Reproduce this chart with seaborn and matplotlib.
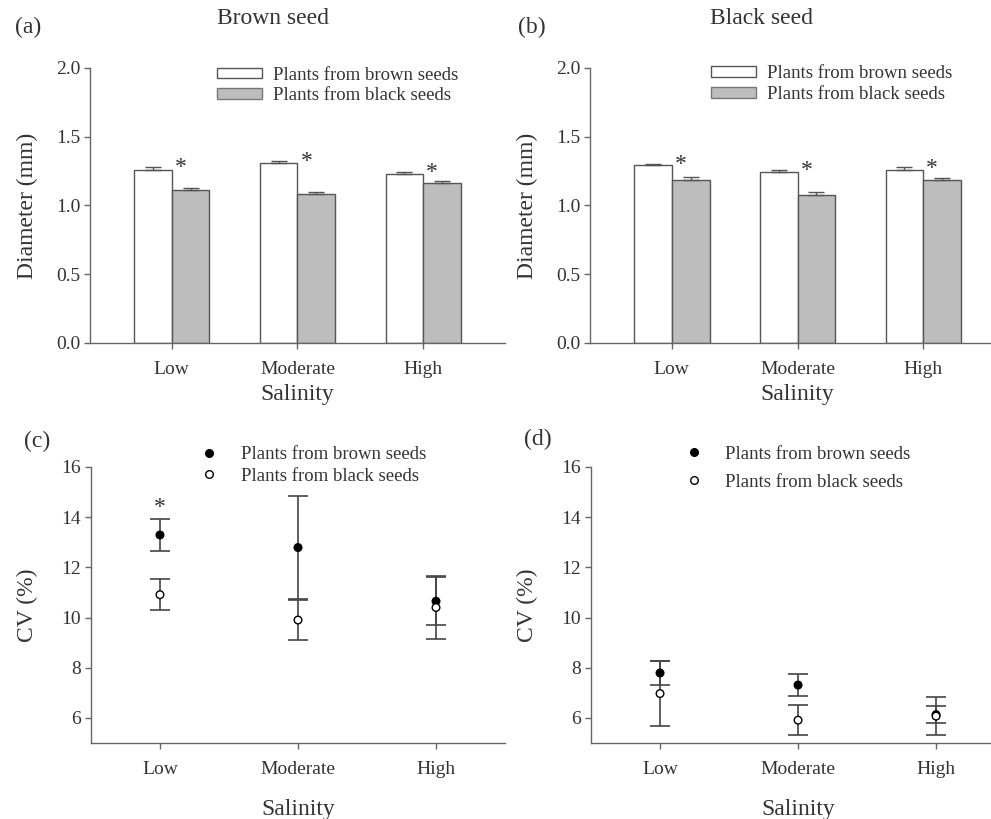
import pandas as pd
import matplotlib
matplotlib.use('Agg')
import matplotlib.pyplot as plt
import seaborn as sns
from matplotlib.patches import Patch
from matplotlib.lines import Line2D

# Data
salinity = ['Low', 'Moderate', 'High']
groups = ['Plants from brown seeds', 'Plants from black seeds']

# (a) Brown seed: diameter (mm)
diam_a_brown = [1.26, 1.31, 1.23]
diam_a_brown_se = [0.022, 0.017, 0.016]
diam_a_black = [1.115, 1.081, 1.164]
diam_a_black_se = [0.013, 0.017, 0.015]

# (b) Black seed: diameter (mm)
diam_b_brown = [1.292, 1.246, 1.256]
diam_b_brown_se = [0.012, 0.012, 0.022]
diam_b_black = [1.188, 1.079, 1.188]
diam_b_black_se = [0.017, 0.017, 0.011]

# (c) Brown seed: CV (%)
cv_c_brown = [13.29, 12.79, 10.65]
cv_c_brown_se = [0.65, 2.05, 0.95]
cv_c_black = [10.91, 9.90, 10.40]
cv_c_black_se = [0.61, 0.81, 1.25]

# (d) Black seed: CV (%)
cv_d_brown = [7.79, 7.31, 6.13]
cv_d_brown_se = [0.47, 0.42, 0.33]
cv_d_black = [6.97, 5.91, 6.07]
cv_d_black_se = [1.30, 0.61, 0.75]

sns.set_style('ticks')
plt.rcParams['font.family'] = ['Liberation Serif', 'DejaVu Serif']

TXT = '#333333'
SPINE = '#666666'
GRAY = '#bdbdbd'

fig = plt.figure(figsize=(9.91, 8.19), dpi=100)
ax_a = fig.add_axes([0.0908, 0.5812, 0.4188, 0.3358])
ax_b = fig.add_axes([0.5954, 0.5812, 0.4188, 0.3358])
ax_c = fig.add_axes([0.0918, 0.0928, 0.4178, 0.3370])
ax_d = fig.add_axes([0.5964, 0.0928, 0.4178, 0.3370])


def star(ax, x, y):
    # asterisk glyph centred on (x, y); the glyph sits high in its text box
    ax.annotate('*', xy=(x, y), xytext=(0, -7.5), textcoords='offset points',
                ha='center', va='baseline', fontsize=17, color=TXT)


def style_axes(ax, ylabel, xpad, ypad):
    sns.despine(ax=ax)
    for s in ['left', 'bottom']:
        ax.spines[s].set_color(SPINE)
        ax.spines[s].set_linewidth(1.0)
    ax.tick_params(axis='both', colors=SPINE, labelcolor=TXT, labelsize=14,
                   length=4, width=1.0, direction='out')
    ax.tick_params(axis='x', pad=9)
    ax.tick_params(axis='y', pad=3)
    ax.set_xlabel('Salinity', fontsize=17, color=TXT, labelpad=xpad)
    ax.set_ylabel(ylabel, fontsize=17, color=TXT, labelpad=ypad)


def bar_panel(ax, brown, brown_se, black, black_se, legend_xy):
    df = pd.DataFrame({
        'salinity': salinity * 2,
        'group': [groups[0]] * 3 + [groups[1]] * 3,
        'value': brown + black,
    })
    sns.barplot(data=df, x='salinity', y='value', hue='group', order=salinity,
                hue_order=groups, palette=['white', GRAY], width=0.6, gap=0,
                errorbar=None, edgecolor='#555555', linewidth=1.0, ax=ax,
                legend=False)
    # upper-only error bars on each bar
    for cont, se in zip(ax.containers, [brown_se, black_se]):
        xs = [b.get_x() + b.get_width() / 2 for b in cont]
        ys = [b.get_height() for b in cont]
        ax.errorbar(xs, ys, yerr=[[0] * 3, se], fmt='none', ecolor='#555555',
                    elinewidth=1.0, capsize=5.5, capthick=1.0, zorder=3)
    # significance marks
    for i in range(3):
        top = max(brown[i] + brown_se[i], black[i] + black_se[i])
        star(ax, i + 0.07, top + 0.03)
    ax.set_ylim(0, 2.0)
    ax.set_yticks([0.0, 0.5, 1.0, 1.5, 2.0])
    ax.set_yticklabels(['0.0', '0.5', '1.0', '1.5', '2.0'])
    ax.set_xlim(-0.65, 2.65)
    style_axes(ax, 'Diameter (mm)', 4, 13)
    handles = [Patch(facecolor='white', edgecolor='#555555', linewidth=1.0),
               Patch(facecolor=GRAY, edgecolor='#777777', linewidth=1.0)]
    ax.legend(handles, groups, loc='upper left', bbox_to_anchor=legend_xy,
              frameon=False, fontsize=13.5, handlelength=2.4, handleheight=0.5,
              handletextpad=0.6, labelspacing=0.2, borderpad=0, borderaxespad=0,
              labelcolor=TXT)


def cv_panel(ax, brown, brown_se, black, black_se, legend_xy, spacing, star_y=None):
    df = pd.DataFrame({
        'salinity': salinity * 2,
        'group': [groups[0]] * 3 + [groups[1]] * 3,
        'cv': brown + black,
    })
    ax.errorbar(salinity, brown, yerr=brown_se, fmt='none', ecolor='#444444',
                elinewidth=1.2, capsize=7, capthick=1.2, zorder=2)
    ax.errorbar(salinity, black, yerr=black_se, fmt='none', ecolor='#444444',
                elinewidth=1.2, capsize=7, capthick=1.2, zorder=2)
    sns.scatterplot(data=df, x='salinity', y='cv', hue='group', hue_order=groups,
                    palette=['black', 'white'], edgecolor='black', linewidth=1.0,
                    s=30, zorder=4, ax=ax, legend=False)
    if star_y is not None:
        star(ax, 0, star_y)
    ax.set_ylim(5, 16)
    ax.set_yticks([6, 8, 10, 12, 14, 16])
    ax.set_xlim(-0.5, 2.5)
    style_axes(ax, 'CV (%)', 15, 17)
    handles = [Line2D([], [], ls='none', marker='o', ms=5.5, mfc='black', mec='black'),
               Line2D([], [], ls='none', marker='o', ms=5.5, mfc='white', mec='black')]
    ax.legend(handles, groups, loc='upper left', bbox_to_anchor=legend_xy,
              frameon=False, fontsize=13.5, handlelength=1.0,
              handletextpad=1.2, labelspacing=spacing, borderpad=0,
              borderaxespad=0, labelcolor=TXT)


bar_panel(ax_a, diam_a_brown, diam_a_brown_se, diam_a_black, diam_a_black_se,
          (0.306, 1.005))
bar_panel(ax_b, diam_b_brown, diam_b_brown_se, diam_b_black, diam_b_black_se,
          (0.292, 1.01))
cv_panel(ax_c, cv_c_brown, cv_c_brown_se, cv_c_black, cv_c_black_se,
         (0.263, 1.075), 0.23, star_y=14.6)
cv_panel(ax_d, cv_d_brown, cv_d_brown_se, cv_d_black, cv_d_black_se,
         (0.225, 1.078), 0.6)

# panel titles and letters
fig.text(273 / 991, 1 - 19 / 819, 'Brown seed', ha='center', va='center',
         fontsize=17, color=TXT)
fig.text(761 / 991, 1 - 19 / 819, 'Black seed', ha='center', va='center',
         fontsize=17, color=TXT)
for lab, x, y in [('(a)', 28, 27), ('(b)', 532, 27), ('(c)', 37, 441), ('(d)', 538, 439)]:
    fig.text(x / 991, 1 - y / 819, lab, ha='center', va='center',
             fontsize=17, color=TXT)

fig.savefig('out.png', dpi=100)
